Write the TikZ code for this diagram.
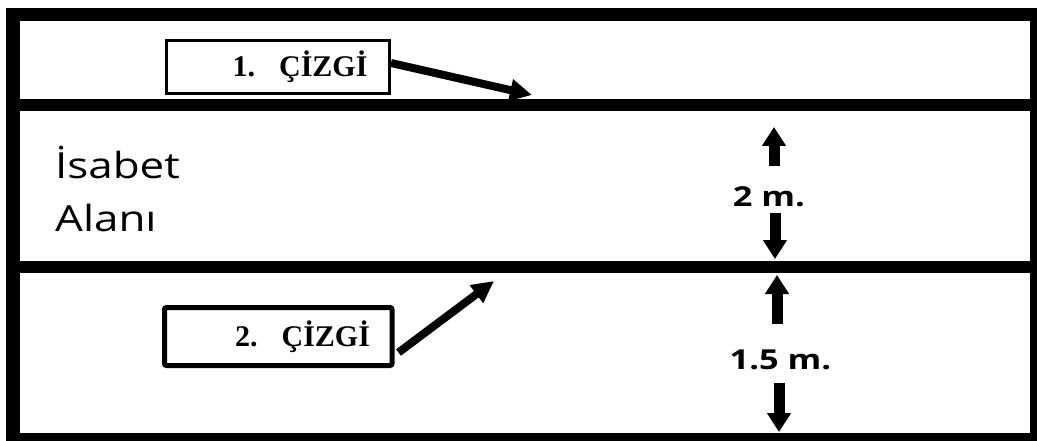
\documentclass[tikz,border=0pt]{standalone}
\usepackage{fontspec}
\usepackage{graphicx}
\setmainfont{Liberation Serif}
\newfontfamily\labelfont{Open Sans}
\usetikzlibrary{arrows.meta}
\newcommand{\widen}[1]{\scalebox{1.22}[1]{#1}}

\begin{document}
\begin{tikzpicture}[
  x=1pt, y=-1pt,
  frame/.style={line width=13.5pt},
  lane/.style={line width=12.5pt},
  tag/.style={draw, rectangle, inner xsep=22pt, text height=20pt, text depth=0pt,
    align=right, font=\fontsize{30}{36}\selectfont\bfseries},
  callout/.style={-{Triangle[length=22pt, width=21pt]}, line width=8pt},
  dim/.style={-{Triangle[length=19pt, width=23pt]}, line width=11pt},
  dimlab/.style={text height=19.6pt, text depth=0pt,
    font=\labelfont\bfseries\fontsize{27.5}{33}\selectfont}
]
\useasboundingbox (0,0) rectangle (1037,441);

% --- frame and the two lines ---
\draw[frame] (13,14.5) rectangle (1036.5,439.5);
\draw[lane] (13,105) -- (1036.5,105);
\draw[lane] (13,267) -- (1036.5,267);

% --- area text ---
\node[anchor=west, align=left, inner sep=0pt,
  font=\labelfont\fontsize{36}{53}\selectfont] (area) at (55,189)
  {\widen{İsabet}\\\widen{Alanı}};

% --- line tags ---
\node[tag, line width=3pt, minimum width=223pt, minimum height=52.5pt,
  text width=179pt] (tag1) at (278,67) {1.\hspace{24pt}ÇİZGİ};
\node[tag, line width=5pt, rounded corners=2pt, minimum width=227.5pt,
  minimum height=58pt, text width=183.5pt] (tag2) at (278.25,336.5)
  {2.\hspace{24pt}ÇİZGİ};

\coordinate (tip1) at (532,95);
\coordinate (tip2) at (494,281);
\draw[callout] ([shift={(0,-4)}]tag1.east) -- (tip1);
\draw[callout] ([shift={(4,16)}]tag2.east) -- (tip2);

% --- distances ---
\node[dimlab] (d2m) at (769,197) {\scalebox{1.25}[1]{2 m.}};
\node[dimlab] (d15m) at (780.5,360) {\scalebox{1.25}[1]{1.5 m.}};

\coordinate (u1a) at (774,166);
\coordinate (u1b) at (774,127);
\coordinate (w1a) at (775,213);
\coordinate (w1b) at (775,259);
\coordinate (u2a) at (777,324);
\coordinate (u2b) at (777,275);
\coordinate (w2a) at (779,383);
\coordinate (w2b) at (779,432);

\draw[dim] (u1a) -- (u1b);
\draw[dim] (w1a) -- (w1b);
\draw[dim] (u2a) -- (u2b);
\draw[dim] (w2a) -- (w2b);

\end{tikzpicture}
\end{document}
